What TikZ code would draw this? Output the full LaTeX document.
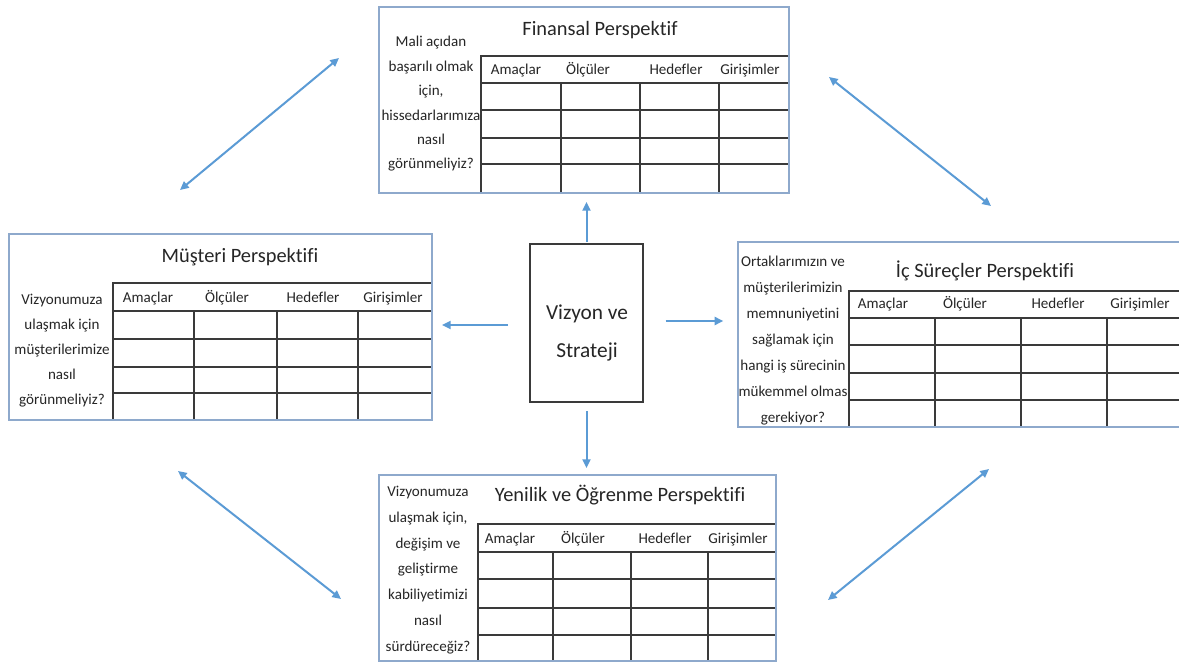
\documentclass[tikz,border=0pt]{standalone}
\usepackage{fontspec}
\setmainfont[Ligatures=NoCommon]{Carlito}
\usetikzlibrary{arrows.meta,fit}
\definecolor{boxblue}{HTML}{8EA9CC}
\definecolor{arrblue}{HTML}{5B9BD5}
\definecolor{tline}{HTML}{3A3A3A}
\definecolor{txt}{HTML}{262626}
\newcommand\bsctab[9]{%
  \draw[tabline] (#1,#7) -- (#1,#2) -- (#8,#2);
  \foreach \yy in {#3,#4,#5,#6} \draw[tabline] (#1,\yy) -- (#8,\yy);
  \foreach \xx in {#9} \draw[tabline] (\xx,#3) -- (\xx,#7);
}
\tikzset{
  pbox/.style={draw=boxblue, line width=1.1pt, inner sep=0pt, outer sep=0pt},
  tabline/.style={draw=tline, line width=1.1pt},
  hdr/.style={font=\fontsize{11.3}{13}\selectfont, text=txt, inner sep=0pt, anchor=base},
  ttl/.style={font=\fontsize{15.3}{18}\selectfont, text=txt, inner sep=0pt},
  quest/.style={align=center, text=txt, inner sep=0pt},
  cbox/.style={draw=tline, line width=0.9pt, inner sep=0pt, outer sep=0pt},
  ctext/.style={align=center, text=txt, inner sep=0pt, font=\fontsize{16}{28.5}\selectfont},
  arr/.style={draw=arrblue, line width=1.5pt, -{Triangle[length=6.5pt,width=6pt]}},
  darr/.style={draw=arrblue, line width=1.5pt, {Triangle[length=6.5pt,width=6pt]}-{Triangle[length=6.5pt,width=6pt]}}
}
\begin{document}
\begin{tikzpicture}[x=0.75pt, y=-0.75pt]
\useasboundingbox (0,0) rectangle (1179,663);
\clip (0,0) rectangle (1179,663);
\fill[white] (0,0) rectangle (1179,663);

% ---------- tables ----------
\bsctab{481}{56}{83}{110}{138}{164}{193}{789}{561,640,719}
\bsctab{113}{283}{311}{339}{367}{393}{420}{432}{194,277,358}
\bsctab{849}{291}{318}{345}{373}{400}{427}{1195}{935,1021,1107}
\bsctab{478}{524}{552}{579}{608}{635}{661}{776}{553,631,708}

% ---------- perspective boxes ----------
\node[pbox, fit={(379,7) (789,193)}] (fin) {};
\node[pbox, fit={(9,234) (432,420)}] (mus) {};
\node[pbox, fit={(738,242) (1195,427)}] (ic) {};
\node[pbox, fit={(379,475) (776,661)}] (yen) {};

% ---------- titles ----------
\node[ttl] (fin-t) at (600,30) {Finansal Perspektif};
\node[ttl] (mus-t) at (240,257) {Müşteri Perspektifi};
\node[ttl] (ic-t) at (985,271) {İç Süreçler Perspektifi};
\node[ttl] (yen-t) at (620,495) {Yenilik ve Öğrenme Perspektifi};

% ---------- headers ----------
\foreach \t/\xx [count=\i] in {Amaçlar/516, Ölçüler/588, Hedefler/676, Girişimler/750}
  \node[hdr] (fin-h\i) at (\xx,75) {\t};
\foreach \t/\xx [count=\i] in {Amaçlar/148, Ölçüler/227, Hedefler/313, Girişimler/393}
  \node[hdr] (mus-h\i) at (\xx,302) {\t};
\foreach \t/\xx [count=\i] in {Amaçlar/883, Ölçüler/965, Hedefler/1058, Girişimler/1140}
  \node[hdr] (ic-h\i) at (\xx,309) {\t};
\foreach \t/\xx [count=\i] in {Amaçlar/510, Ölçüler/583, Hedefler/665, Girişimler/738}
  \node[hdr] (yen-h\i) at (\xx,543) {\t};

% ---------- questions ----------
\node[quest, font=\fontsize{11.3}{18.3}\selectfont] (fin-q) at (431,104)
  {Mali açıdan\\başarılı olmak\\için,\\hissedarlarımıza\\nasıl\\görünmeliyiz?};
\node[quest, font=\fontsize{11.3}{18.75}\selectfont] (mus-q) at (62,351)
  {Vizyonumuza\\ulaşmak için\\müşterilerimize\\nasıl\\görünmeliyiz?};
\node[quest, font=\fontsize{11.3}{19.5}\selectfont] (ic-q) at (793,341)
  {Ortaklarımızın ve\\müşterilerimizin\\memnuniyetini\\sağlamak için\\hangi iş sürecinin\\mükemmel olmas\\gerekiyor?};
\node[quest, font=\fontsize{11.3}{19.35}\selectfont] (yen-q) at (428,570)
  {Vizyonumuza\\ulaşmak için,\\değişim ve\\geliştirme\\kabiliyetimizi\\nasıl\\sürdüreceğiz?};

% ---------- centre ----------
\node[cbox, fit={(530,244) (643,402)}] (vs) {};
\node[ctext] (vs-t) at (587,333) {Vizyon ve\\Strateji};

% ---------- arrows from centre ----------
\draw[arr, shorten <=1.5pt, shorten >=6.75pt] (vs.north) -- (vs.north |- fin.south);
\draw[arr, shorten <=6.75pt, shorten >=5.25pt] (vs.south) -- (vs.south |- yen.north);
\draw[arr, shorten <=16.5pt, shorten >=7.5pt] ([yshift=-1.5pt]vs.west) -- ([yshift=-1.5pt]vs.west -| mus.east);
\draw[arr, shorten <=17pt, shorten >=11pt] ([yshift=1.5pt]vs.east) -- ([yshift=1.5pt]vs.east -| ic.west);

% ---------- diagonal double arrows ----------
\coordinate (tl1) at (339,58);
\coordinate (tl2) at (180,190);
\coordinate (tr1) at (829,77);
\coordinate (tr2) at (991,206);
\coordinate (bl1) at (178,471);
\coordinate (bl2) at (341,599);
\coordinate (br1) at (989,469);
\coordinate (br2) at (828,600);
\draw[darr] (tl1) -- (tl2);
\draw[darr] (tr1) -- (tr2);
\draw[darr] (bl1) -- (bl2);
\draw[darr] (br1) -- (br2);
\end{tikzpicture}
\end{document}
